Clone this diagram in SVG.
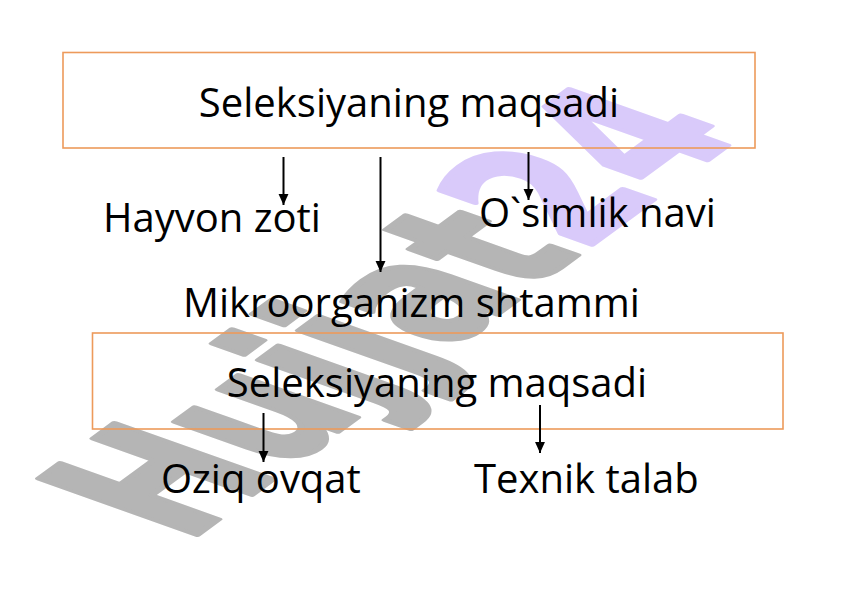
<svg xmlns="http://www.w3.org/2000/svg" width="843" height="593" viewBox="0 0 843 593">
<style>
.lbl{font-family:"Open Sans","Noto Sans","DejaVu Sans",sans-serif;font-size:40px;fill:#000}
.box{fill:none;stroke:#ED9A5B;stroke-width:1.6}
.conn{stroke:#000;stroke-width:2;fill:none}
.wm{font-family:"DejaVu Sans",sans-serif;font-weight:bold;font-size:100px;fill:#b5b5b5;stroke:#b5b5b5;stroke-width:3;stroke-linejoin:round}
.wm2{fill:#d9cafa;stroke:#d9cafa}
</style>
<defs>
<marker id="ah" markerUnits="userSpaceOnUse" markerWidth="11" markerHeight="11" viewBox="0 0 10 10" refX="10" refY="5" orient="auto">
<path d="M0,0.5 L10,5 L0,9.5 Z" fill="#000"/>
</marker>
</defs>
<rect width="843" height="593" fill="#fff"/>
<g id="watermark">
<text class="wm" transform="matrix(1.17 -0.86 2.167 0.77 186 543)">Hujjat<tspan class="wm2">24</tspan></text>
</g>
<g id="node-top">
<rect class="box" x="63" y="52.5" width="692" height="95.5"/>
<text class="lbl" x="409" y="117" text-anchor="middle">Seleksiyaning maqsadi</text>
</g>
<g id="node-hayvon"><text class="lbl" x="103" y="232">Hayvon zoti</text></g>
<g id="node-osimlik"><text class="lbl" x="479" y="227">O`simlik navi</text></g>
<g id="node-mikro"><text class="lbl" x="183" y="317">Mikroorganizm shtammi</text></g>
<g id="node-bottom">
<rect class="box" x="92.5" y="333" width="690.5" height="96"/>
<text class="lbl" x="437" y="397" text-anchor="middle">Seleksiyaning maqsadi</text>
</g>
<g id="node-oziq"><text class="lbl" x="161" y="493">Oziq ovqat</text></g>
<g id="node-texnik"><text class="lbl" x="474" y="493">Texnik talab</text></g>
<g id="connectors">
<line class="conn" x1="283.5" y1="157" x2="283.5" y2="205" marker-end="url(#ah)"/>
<line class="conn" x1="380.5" y1="157" x2="380.5" y2="272" marker-end="url(#ah)"/>
<line class="conn" x1="528.5" y1="152" x2="528.5" y2="200" marker-end="url(#ah)"/>
<line class="conn" x1="263.5" y1="413" x2="263.5" y2="462" marker-end="url(#ah)"/>
<line class="conn" x1="540" y1="405" x2="540" y2="453" marker-end="url(#ah)"/>
</g>
</svg>
